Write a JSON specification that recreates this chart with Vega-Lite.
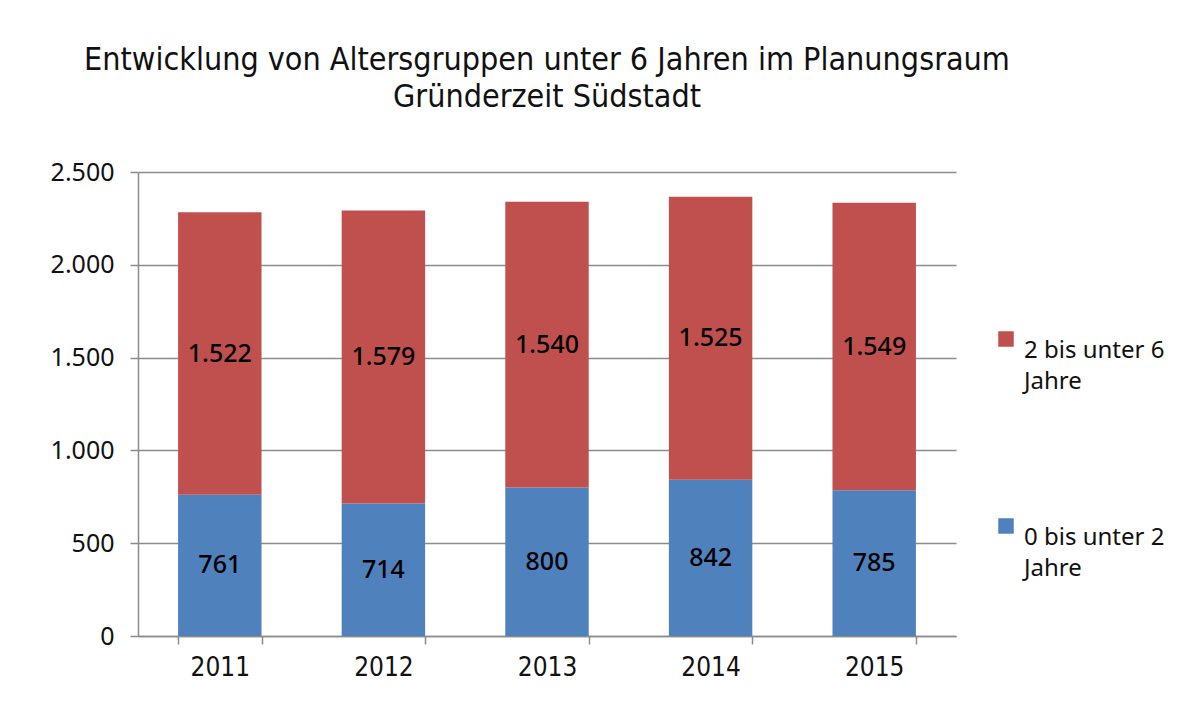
{
  "$schema": "https://vega.github.io/schema/vega-lite/v6.json",
  "width": 818,
  "height": 464,
  "padding": {"left": 50, "top": 44, "right": 10, "bottom": 5},
  "autosize": {"type": "pad"},
  "background": "white",
  "config": {
    "locale": {"number": {"decimal": ",", "thousands": ".", "grouping": [3], "currency": ["", " €"]}},
    "view": {"stroke": null},
    "font": "Noto Sans",
    "style": {"guide-label": {"lineHeight": 31}}
  },
  "title": {
    "text": ["Entwicklung von Altersgruppen unter 6 Jahren im Planungsraum", "Gründerzeit Südstadt"],
    "font": "DejaVu Sans Condensed",
    "fontSize": 32,
    "fontWeight": "normal",
    "color": "#111111",
    "anchor": "middle",
    "lineHeight": 37,
    "offset": 46
  },
  "data": {
    "values": [
      {"jahr": "2011", "gruppe": "0 bis unter 2 Jahre", "anzahl": 761},
      {"jahr": "2011", "gruppe": "2 bis unter 6 Jahre", "anzahl": 1522},
      {"jahr": "2012", "gruppe": "0 bis unter 2 Jahre", "anzahl": 714},
      {"jahr": "2012", "gruppe": "2 bis unter 6 Jahre", "anzahl": 1579},
      {"jahr": "2013", "gruppe": "0 bis unter 2 Jahre", "anzahl": 800},
      {"jahr": "2013", "gruppe": "2 bis unter 6 Jahre", "anzahl": 1540},
      {"jahr": "2014", "gruppe": "0 bis unter 2 Jahre", "anzahl": 842},
      {"jahr": "2014", "gruppe": "2 bis unter 6 Jahre", "anzahl": 1525},
      {"jahr": "2015", "gruppe": "0 bis unter 2 Jahre", "anzahl": 785},
      {"jahr": "2015", "gruppe": "2 bis unter 6 Jahre", "anzahl": 1549}
    ]
  },
  "transform": [
    {"stack": "anzahl", "groupby": ["jahr"], "sort": [{"field": "gruppe", "order": "ascending"}], "as": ["y0", "y1"]},
    {"calculate": "(datum.y0 + datum.y1) / 2", "as": "mitte"}
  ],
  "encoding": {
    "x": {
      "field": "jahr",
      "type": "ordinal",
      "title": null,
      "scale": {"paddingInner": 0.49, "paddingOuter": 0.245},
      "axis": {
        "labelAngle": 0,
        "labelFont": "DejaVu Sans Condensed",
        "labelFontSize": 26,
        "labelColor": "#111111",
        "labelPadding": 10,
        "tickBand": "extent",
        "tickSize": 8,
        "tickColor": "#8c8c8c",
        "domainColor": "#8c8c8c",
        "domainWidth": 1.5,
        "tickWidth": 1.5
      }
    }
  },
  "layer": [
    {
      "mark": {"type": "bar"},
      "encoding": {
        "y": {
          "field": "y0",
          "type": "quantitative",
          "title": null,
          "scale": {"domain": [0, 2500], "nice": false},
          "axis": {
            "values": [0, 500, 1000, 1500, 2000, 2500],
            "grid": true,
            "gridColor": "#8c8c8c",
            "gridWidth": 1.5,
            "domainColor": "#8c8c8c",
            "domainWidth": 1.5,
            "tickColor": "#8c8c8c",
            "tickWidth": 1.5,
            "tickSize": 8,
            "labelPadding": 16,
            "labelFont": "Noto Sans",
            "labelFontSize": 25,
            "labelColor": "#111111",
            "format": ",d"
          }
        },
        "y2": {"field": "y1"},
        "color": {
          "field": "gruppe",
          "type": "nominal",
          "scale": {"domain": ["2 bis unter 6 Jahre", "0 bis unter 2 Jahre"], "range": ["#C0504D", "#4F81BD"]},
          "legend": {
            "title": null,
            "orient": "none",
            "legendX": 856,
            "legendY": 155,
            "symbolType": "square",
            "symbolSize": 240,
            "symbolStrokeWidth": 0,
            "labelFont": "Noto Sans",
            "labelFontSize": 24,
            "labelColor": "#111111",
            "labelLimit": 300,
            "labelOffset": 6,
            "labelBaseline": "top",
            "rowPadding": 120,
            "labelExpr": "[slice(datum.label, 0, 13), 'Jahre']"
          }
        }
      }
    },
    {
      "mark": {"type": "text", "fontSize": 25, "font": "Noto Sans", "fontWeight": 500, "color": "#000000", "baseline": "middle"},
      "encoding": {
        "y": {"field": "mitte", "type": "quantitative", "scale": {"domain": [0, 2500], "nice": false}},
        "text": {"field": "anzahl", "type": "quantitative", "format": ",d"}
      }
    }
  ]
}
